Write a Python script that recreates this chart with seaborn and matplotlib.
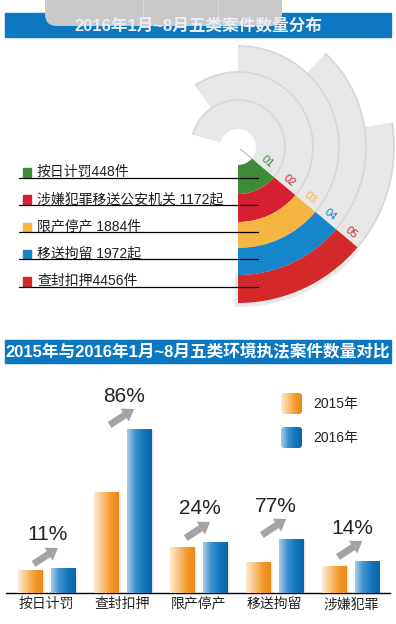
import numpy as np
import pandas as pd
import seaborn as sns
import matplotlib.pyplot as plt
from matplotlib.patches import Wedge, Rectangle, FancyBboxPatch, Arc
from matplotlib.colors import LinearSegmentedColormap

# top: 2016 Jan-Aug cases by type
case_names = ['按日计罚', '涉嫌犯罪移送公安机关', '限产停产', '移送拘留', '查封扣押']
case_counts = [448, 1172, 1884, 1972, 4456]
case_units = ['件', '起', '件', '起', '件']
ring_labels = ['01', '02', '03', '04', '05']
ring_colors = ['#3d8b35', '#d61f32', '#f6b440', '#1486c9', '#d3292a']

# bottom: 2015 vs 2016 comparison (bar heights as drawn, source has no axis)
bar_cats = ['按日计罚', '查封扣押', '限产停产', '移送拘留', '涉嫌犯罪']
years = ['2015年', '2016年']
h2015 = [23, 101, 46, 31, 27]
h2016 = [25, 164, 51, 54, 32]
growth = [11, 86, 24, 77, 14]

sns.set_style('white')
plt.rcParams['font.family'] = ['Noto Sans CJK SC', 'DejaVu Sans']
mixed = ['Liberation Sans', 'Noto Sans CJK SC']  # latin digits + CJK fallback

W, H = 396, 624
fig = plt.figure(figsize=(W / 100, H / 100), dpi=100)

orange_cm = LinearSegmentedColormap.from_list('o', ['#fdebd3', '#f9c47f', '#f39b2f', '#ea8716'])
blue_cm = LinearSegmentedColormap.from_list('b', ['#a6cde9', '#3d93cf', '#1577bd', '#0b63a6'])
grad = np.linspace(0, 1, 64).reshape(1, -1)


def fill_gradient(ax, patch, cmap, z):
    x0, y0 = patch.get_x(), patch.get_y()
    w, h = patch.get_width(), patch.get_height()
    im = ax.imshow(grad, cmap=cmap, extent=[x0, x0 + w, y0, y0 + h], aspect='auto',
                   origin='lower', interpolation='bicubic', zorder=z)
    im.set_clip_path(patch)


# background layer: banners, header, legend of bottom chart
bg = fig.add_axes([0, 0, 1, 1], zorder=0)
bg.set_xlim(0, W)
bg.set_ylim(H, 0)
bg.axis('off')

banner = '#0b78c1'
bg.add_patch(Rectangle((5, 13), 386, 24, color=banner, zorder=1))
bg.add_patch(FancyBboxPatch((45, -20), 237, 46, boxstyle='round,pad=0,rounding_size=12',
                            fc='#c9c9c9', ec='none', zorder=2))
for x in [143, 218]:
    bg.plot([x, x], [0, 22], color='#dadada', lw=0.6, zorder=3)
bg.text(198, 26, '2016年1月~8月五类案件数量分布', ha='center', va='center',
        fontsize=12, fontweight='bold', color='#e9eef4', family=mixed, zorder=4)

bg.add_patch(Rectangle((5, 340), 386, 23, color=banner, zorder=1))
bg.text(198, 352, '2015年与2016年1月~8月五类环境执法案件数量对比', ha='center', va='center',
        fontsize=12, fontweight='bold', color='white', family=mixed, zorder=4)

for yy, lab, cm in [(393, years[0], orange_cm), (427, years[1], blue_cm)]:
    sq = FancyBboxPatch((281, yy), 21, 21, boxstyle='round,pad=0,rounding_size=3',
                        fc='none', ec='none', zorder=3)
    bg.add_patch(sq)
    fill_gradient(bg, sq, cm, 3)
    bg.text(313, yy + 11, lab, va='center', fontsize=10, color='#222222', family=mixed, zorder=4)
bg.set_xlim(0, W)
bg.set_ylim(H, 0)

# top radial chart, 1 data unit = 1 px, center of rings at origin
ax_top = fig.add_axes([0, 1 - 320 / H, 1, 280 / H], zorder=2)
ax_top.set_xlim(-238, 158)
ax_top.set_ylim(-173, 107)
ax_top.axis('off')

edges = [18, 47, 75, 101, 128, 156]
gray_end = [165, 125, 90, 47, 9]
cut = -40
ax_top.add_patch(Wedge((1.5, -3), 157, -92, cut, width=34, fc='black', alpha=0.08, ec='none', zorder=1))
for i in range(len(case_names)):
    r_in, r_out = edges[i], edges[i + 1]
    ax_top.add_patch(Wedge((0, 0), r_out, cut, gray_end[i], width=r_out - r_in,
                           fc='#e7e7e7', ec='none', zorder=1))
    ax_top.add_patch(Wedge((0, 0), r_out, -90, cut, width=r_out - r_in,
                           fc=ring_colors[i], ec='none', zorder=3))
for i in range(len(case_names)):
    r_out = edges[i + 1]
    ax_top.add_patch(Arc((0, 0), 2 * r_out, 2 * r_out, theta1=cut, theta2=gray_end[i],
                         color='#d6d6d6', lw=1.2, zorder=2))

th = np.radians(cut)
for i in range(len(case_names)):
    rm = (edges[i] + edges[i + 1]) / 2
    px = rm * np.cos(th) - 7.5 * np.sin(th)
    py = rm * np.sin(th) + 7.5 * np.cos(th)
    ax_top.text(px, py, ring_labels[i], ha='center', va='center', rotation=cut,
                fontsize=8, color=ring_colors[i], family=['Liberation Sans'], zorder=4)
ax_top.plot([3 * np.cos(th), 22 * np.cos(th)], [3 * np.sin(th), 22 * np.sin(th)],
            color='#9a9a9a', lw=0.5, zorder=2)

seps = ['', ' ', ' ', ' ', '']
for i in range(len(case_names)):
    y = -25 - 27.3 * i
    ax_top.add_patch(Rectangle((-215, y - 4.5), 8, 8.5, color=ring_colors[i], zorder=5))
    ax_top.text(-201, y, f'{case_names[i]}{seps[i]}{case_counts[i]}{case_units[i]}',
                va='center', fontsize=10, color='#1e1e1e', family=mixed, zorder=5)
    ax_top.plot([-219, 20], [y - 5.5, y - 5.5], color='black', lw=0.9, zorder=5)

# bottom grouped bars
df = pd.DataFrame({
    'category': bar_cats * 2,
    'year': [years[0]] * len(bar_cats) + [years[1]] * len(bar_cats),
    'height': h2015 + h2016,
})
ax = fig.add_axes([6 / W, 31 / H, 384 / W, 223 / H], zorder=2)
ax.patch.set_alpha(0)
sns.barplot(data=df, x='category', y='height', hue='year', order=bar_cats, hue_order=years,
            palette=['#f39b2f', '#1577bd'], width=0.87, gap=0.27, saturation=1,
            legend=False, ax=ax)
bars = list(ax.patches)
for k, p in enumerate(bars):
    cm = orange_cm if k < len(bar_cats) else blue_cm
    x0, w, h = p.get_x(), p.get_width(), p.get_height()
    for off, a in [(0.012, 0.10), (0.024, 0.08), (0.038, 0.05)]:
        ax.add_patch(Rectangle((x0 + off, 0), w, h - 1, color='black', alpha=a, lw=0, zorder=1))
    p.set_zorder(2)
    fill_gradient(ax, p, cm, 3)

for i, g in enumerate(growth):
    base = max(h2015[i], h2016[i]) + 4
    ax.annotate('', xy=(i + 0.15, base + 16), xytext=(i - 0.17, base),
                arrowprops=dict(arrowstyle='simple,head_length=0.8,head_width=1.1,tail_width=0.5',
                                mutation_scale=10, fc='#a3a3a3', ec='none',
                                shrinkA=0, shrinkB=0), zorder=4)
    ax.text(i + 0.02, base + 29, f'{g}%', ha='center', va='center', fontsize=15,
            color='#222222', family=['Liberation Sans'], zorder=4)

ax.set_xlim(-0.532, 4.514)
ax.set_ylim(0, 223)
ax.set_xlabel('')
ax.set_ylabel('')
ax.set_yticks([])
ax.tick_params(axis='x', length=0, pad=3, labelsize=10, labelcolor='#222222')
sns.despine(ax=ax, left=True)
ax.spines['bottom'].set_color('black')
ax.spines['bottom'].set_linewidth(1)

fig.savefig('out.png', dpi=100)
